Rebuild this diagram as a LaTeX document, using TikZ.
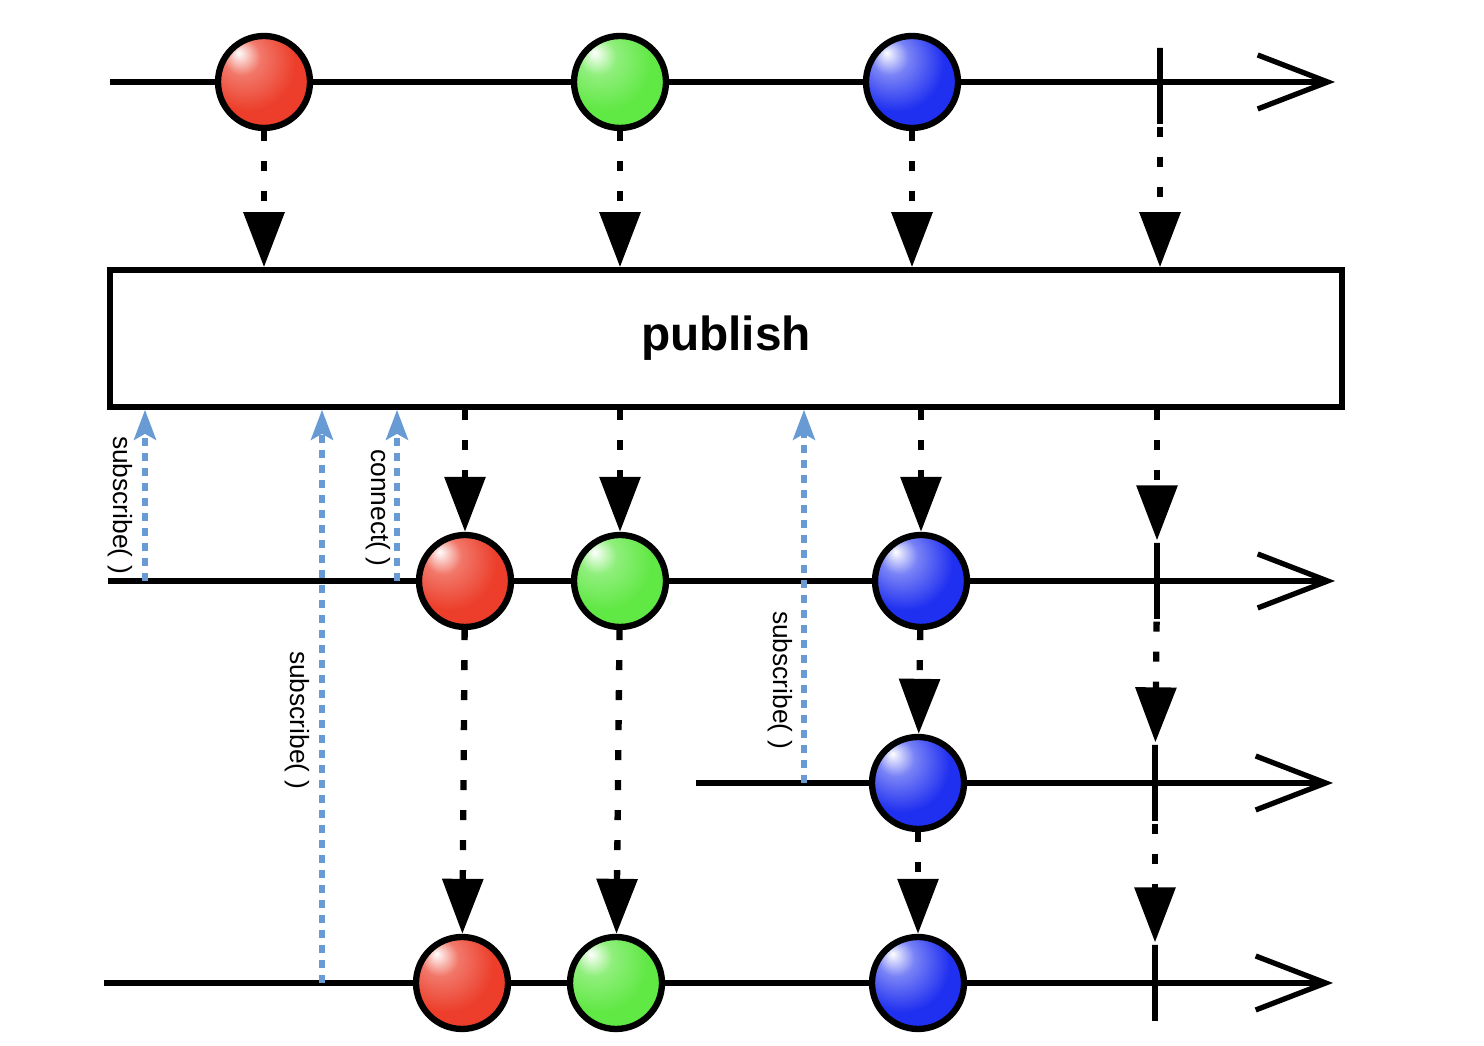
\documentclass[tikz,border=0pt]{standalone}
\usepackage{fontspec}
\setmainfont{Liberation Sans}
\usetikzlibrary{arrows.meta}
\definecolor{marblered}{RGB}{236,62,42}
\definecolor{marblegreen}{RGB}{96,232,68}
\definecolor{marbleblue}{RGB}{32,48,240}
\definecolor{callblue}{RGB}{104,155,212}
\pgfdeclareradialshading{redball}{\pgfpoint{-14bp}{16bp}}{color(0bp)=(white); color(10bp)=(marblered!70!white); color(26bp)=(marblered); color(55bp)=(marblered); color(70bp)=(marblered!70!black)}
\pgfdeclareradialshading{greenball}{\pgfpoint{-14bp}{16bp}}{color(0bp)=(white); color(10bp)=(marblegreen!70!white); color(26bp)=(marblegreen); color(55bp)=(marblegreen); color(70bp)=(marblegreen!70!black)}
\pgfdeclareradialshading{blueball}{\pgfpoint{-14bp}{16bp}}{color(0bp)=(white); color(10bp)=(marbleblue!60!white); color(26bp)=(marbleblue); color(55bp)=(marbleblue); color(70bp)=(marbleblue!70!black)}
\begin{document}
\begin{tikzpicture}
\tikzstyle{marble}=[draw,shape=circle,line width=1.8pt,minimum size=0.92cm,inner sep=0pt]
\tikzstyle{redm}=[marble,shade,shading=redball]
\tikzstyle{greenm}=[marble,shade,shading=greenball]
\tikzstyle{bluem}=[marble,shade,shading=blueball]
\tikzstyle{tick}=[draw,line width=1.5pt,minimum height=0.76cm,minimum width=0pt,inner sep=0pt]
\tikzstyle{timeline}=[line width=1.5pt,-{Straight Barb[length=0.7cm,width=0.54cm]}]
\tikzstyle{emit}=[line width=1.8pt,dash pattern=on 0.1cm off 0.2cm,-{Triangle[width=0.4cm,length=0.55cm]}]
\tikzstyle{call}=[callblue,line width=1.5pt,dash pattern=on 0.08cm off 0.07cm,-{Stealth[width=0.22cm,length=0.3cm,inset=0.06cm]}]
\tikzstyle{calltext}=[rotate=-90,font=\fontsize{7.5}{9}\selectfont,inner sep=0pt]
\useasboundingbox (0,0) rectangle (14.84,10.46);
\coordinate (l0) at (1.10,9.64);
\coordinate (e0) at (13.35,9.64);
\coordinate (l1) at (1.08,4.65);
\coordinate (e1) at (13.35,4.65);
\coordinate (l2) at (6.96,2.63);
\coordinate (e2) at (13.33,2.63);
\coordinate (l3) at (1.04,0.63);
\coordinate (e3) at (13.33,0.63);
\draw[timeline] (l0) -- (e0);
\draw[timeline] (l1) -- (e1);
\draw[timeline] (l2) -- (e2);
\draw[timeline] (l3) -- (e3);
\node[redm] at (2.64,9.64) (r0) {};
\node[greenm] at (6.20,9.64) (g0) {};
\node[bluem] at (9.12,9.64) (b0) {};
\node[tick] at (11.60,9.60) (c0) {};
\node[draw,line width=1.6pt,minimum width=12.32cm,minimum height=1.37cm,inner sep=0pt,font=\fontsize{13.6}{16}\selectfont\bfseries] at (7.26,7.075) (box) {publish};
\node[redm] at (4.65,4.65) (r1) {};
\node[greenm] at (6.20,4.65) (g1) {};
\node[bluem] at (9.21,4.65) (b1) {};
\node[tick] at (11.57,4.65) (c1) {};
\node[bluem] at (9.18,2.63) (b2) {};
\node[tick] at (11.55,2.63) (c2) {};
\node[redm] at (4.62,0.63) (r3) {};
\node[greenm] at (6.16,0.63) (g3) {};
\node[bluem] at (9.18,0.63) (b3) {};
\node[tick] at (11.55,0.63) (c3) {};
\draw[emit] (r0) -- (r0 |- box.north);
\draw[emit] (g0) -- (g0 |- box.north);
\draw[emit] (b0) -- (b0 |- box.north);
\draw[emit] (c0) -- (c0 |- box.north);
\draw[emit] (r1 |- box.south) -- (r1);
\draw[emit] (g1 |- box.south) -- (g1);
\draw[emit] (b1 |- box.south) -- (b1);
\draw[emit] (c1 |- box.south) -- (c1);
\draw[emit] (b1) -- (b2);
\draw[emit] (c1) -- (c2);
\draw[emit] (r1) -- (r3);
\draw[emit] (g1) -- (g3);
\draw[emit] (b2) -- (b3);
\draw[emit] (c2) -- (c3);
\coordinate (s0) at (1.45,4.65);
\coordinate (s1) at (3.22,0.63);
\coordinate (s2) at (3.97,4.65);
\coordinate (s3) at (8.04,2.63);
\draw[call] (s0) -- (s0 |- box.south);
\draw[call] (s1) -- (s1 |- box.south);
\draw[call] (s2) -- (s2 |- box.south);
\draw[call] (s3) -- (s3 |- box.south);
\node[calltext] at (1.20,5.41) (t0) {subscribe( )};
\node[calltext] at (2.97,3.26) (t1) {subscribe( )};
\node[calltext] at (3.78,5.38) (t2) {connect( )};
\node[calltext] at (7.80,3.66) (t3) {subscribe( )};
\end{tikzpicture}
\end{document}
